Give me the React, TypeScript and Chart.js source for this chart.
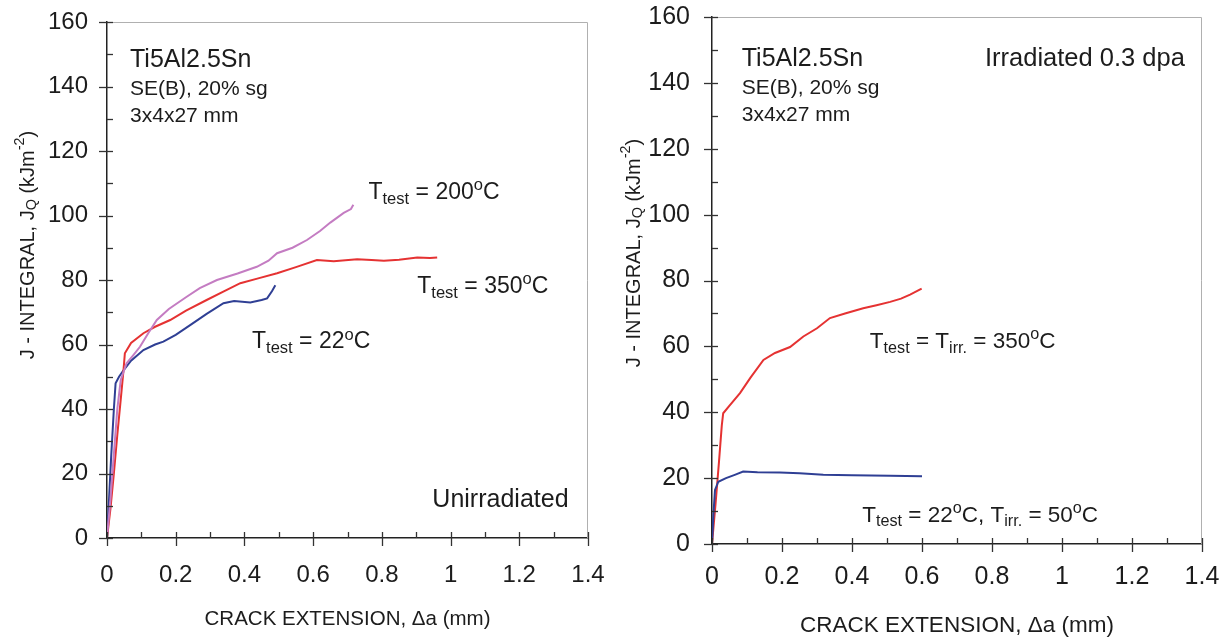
import React, { useEffect, useRef } from 'react';
import { Chart, registerables } from 'chart.js';

Chart.register(...registerables);

const FAMILY = '"Liberation Sans", Arial, Helvetica, sans-serif';

// ---------- axis ticks ----------
const xMajorTicks = [0, 0.2, 0.4, 0.6, 0.8, 1, 1.2, 1.4];
const xTickLabels = ['0', '0.2', '0.4', '0.6', '0.8', '1', '1.2', '1.4'];
const yMajorTicks = [0, 20, 40, 60, 80, 100, 120, 140, 160];
const yTickLabels = ['0', '20', '40', '60', '80', '100', '120', '140', '160'];

// ---------- Unirradiated (left) ----------
const t22X = [0, 0.005, 0.012, 0.02, 0.025, 0.035, 0.048, 0.07, 0.106, 0.14, 0.164, 0.2, 0.242, 0.29, 0.339, 0.37, 0.417, 0.45, 0.466, 0.48, 0.49];
const t22Y = [0, 10, 25, 40, 48, 50, 52, 55, 58.3, 60, 60.9, 63, 66, 69.5, 72.8, 73.5, 73, 73.8, 74.3, 76.5, 78.4];

const t200X = [0, 0.01, 0.02, 0.03, 0.04, 0.057, 0.075, 0.096, 0.12, 0.145, 0.18, 0.232, 0.27, 0.32, 0.38, 0.436, 0.47, 0.495, 0.54, 0.582, 0.62, 0.65, 0.689, 0.71, 0.717];
const t200Y = [0, 12, 26, 40, 49, 54.2, 56.5, 59.3, 63.5, 67.6, 71, 74.8, 77.5, 80, 82, 84.1, 86, 88.3, 90, 92.4, 95.2, 97.8, 100.8, 102, 103.3];

const t350X = [0, 0.01, 0.02, 0.03, 0.04, 0.048, 0.052, 0.07, 0.106, 0.14, 0.184, 0.23, 0.29, 0.34, 0.388, 0.44, 0.495, 0.55, 0.611, 0.66, 0.728, 0.77, 0.806, 0.85, 0.903, 0.94, 0.961];
const t350Y = [0, 9, 20, 32, 43, 52, 57.3, 60.5, 63.5, 65.5, 67.6, 70.5, 73.8, 76.5, 79, 80.5, 82.1, 84, 86.2, 85.8, 86.4, 86.2, 86.0, 86.3, 87.0, 86.8, 87.0];

// ---------- Irradiated 0.3 dpa (right) ----------
const irr350X = [0, 0.01, 0.02, 0.028, 0.032, 0.05, 0.08, 0.11, 0.147, 0.18, 0.223, 0.261, 0.3, 0.337, 0.38, 0.432, 0.47, 0.509, 0.54, 0.566, 0.599];
const irr350Y = [0, 12, 25, 36, 39.7, 42, 45.8, 50.5, 55.9, 58, 59.8, 63, 65.5, 68.6, 70, 71.6, 72.5, 73.5, 74.5, 75.7, 77.5];

const irr22X = [0, 0.004, 0.0086, 0.018, 0.04, 0.065, 0.089, 0.13, 0.194, 0.25, 0.318, 0.4, 0.509, 0.6];
const irr22Y = [0, 9, 16.4, 18.9, 20, 21, 22, 21.8, 21.7, 21.5, 21.0, 20.9, 20.7, 20.6];

const RED = '#e53232';
const BLUE = '#2f3f94';
const PURPLE = '#c47cc2';
const TEXT = '#1c1c1c';

type Seg = { t: string; k?: 'sub' | 'sup' };

function isMajor(v: number, majors: number[]) {
  return majors.some((m) => Math.abs(m - v) < 1e-6);
}

function drawRich(ctx: CanvasRenderingContext2D, segs: Seg[], x: number, y: number, size: number, align: 'left' | 'center') {
  const small = size * 0.72;
  const fontFor = (k?: string) => `${k ? small : size}px ${FAMILY}`;
  let w = 0;
  for (const s of segs) {
    ctx.font = fontFor(s.k);
    w += ctx.measureText(s.t).width;
  }
  let cx = align === 'center' ? x - w / 2 : x;
  ctx.textAlign = 'left';
  for (const s of segs) {
    ctx.font = fontFor(s.k);
    const dy = s.k === 'sub' ? size * 0.2 : s.k === 'sup' ? -size * 0.38 : 0;
    ctx.fillText(s.t, cx, y + dy);
    cx += ctx.measureText(s.t).width;
  }
}

const decorPlugin = {
  id: 'decor',
  afterDraw(chart: any, _args: any, opts: any) {
    const { ctx, chartArea: a, scales } = chart;
    const xs = scales.x;
    const ys = scales.y;
    ctx.save();
    // light frame on top / right
    ctx.strokeStyle = '#b0b0b0';
    ctx.lineWidth = 1;
    ctx.beginPath();
    ctx.moveTo(a.left, a.top + 0.5);
    ctx.lineTo(a.right - 0.5, a.top + 0.5);
    ctx.lineTo(a.right - 0.5, a.bottom);
    ctx.stroke();
    // tick marks
    ctx.strokeStyle = '#333';
    ctx.lineWidth = 1.3;
    for (const t of ys.ticks) {
      const py = Math.round(ys.getPixelForValue(t.value)) + 0.5;
      const major = isMajor(t.value, yMajorTicks);
      ctx.beginPath();
      ctx.moveTo(a.left - (major ? 8 : 0), py);
      ctx.lineTo(a.left + 6, py);
      ctx.stroke();
    }
    for (const t of xs.ticks) {
      const px = Math.round(xs.getPixelForValue(t.value)) + 0.5;
      const major = isMajor(t.value, xMajorTicks);
      ctx.beginPath();
      ctx.moveTo(px, a.bottom + (major ? 8 : 0));
      ctx.lineTo(px, a.bottom - 6);
      ctx.stroke();
    }
    // y title
    ctx.fillStyle = TEXT;
    ctx.textBaseline = 'middle';
    ctx.save();
    ctx.translate(opts.yTitle.x, opts.yTitle.y);
    ctx.rotate(-Math.PI / 2);
    drawRich(ctx, [
      { t: 'J - INTEGRAL, J' }, { t: 'Q', k: 'sub' }, { t: ' (kJm' }, { t: '-2', k: 'sup' }, { t: ')' },
    ], 0, 0, opts.yTitle.size, 'center');
    ctx.restore();
    // annotations
    ctx.textBaseline = 'alphabetic';
    for (const n of opts.notes) {
      const px = xs.getPixelForValue(n.x);
      const py = ys.getPixelForValue(n.y);
      drawRich(ctx, n.segs, px, py, n.size, 'left');
    }
    ctx.restore();
  },
};

function series(xv: number[], yv: number[], color: string) {
  return {
    data: xv.map((x, i) => ({ x, y: yv[i] })),
    borderColor: color,
    backgroundColor: color,
    borderWidth: 2,
    pointRadius: 0,
    showLine: true,
    tension: 0,
  };
}

function makeConfig(p: any): any {
  return {
    type: 'scatter',
    data: { datasets: p.datasets },
    plugins: [decorPlugin],
    options: {
      animation: false,
      responsive: false,
      devicePixelRatio: 1,
      events: [],
      layout: { padding: p.padding },
      plugins: {
        legend: { display: false },
        tooltip: { enabled: false },
        decor: { yTitle: p.yTitle, notes: p.notes },
      },
      scales: {
        x: {
          type: 'linear',
          min: 0,
          max: 1.4,
          grid: { display: false },
          border: { display: true, color: '#222', width: 1.5 },
          ticks: {
            stepSize: 0.1,
            autoSkip: false,
            maxRotation: 0,
            minRotation: 0,
            padding: p.xTickPad,
            color: TEXT,
            font: { family: FAMILY, size: p.tickSize },
            callback: (v: number) => {
              const i = xMajorTicks.findIndex((m) => Math.abs(m - v) < 1e-6);
              return i >= 0 ? xTickLabels[i] : '';
            },
          },
          title: {
            display: true,
            text: 'CRACK EXTENSION, Δa (mm)',
            color: TEXT,
            font: { family: FAMILY, size: p.xTitleSize },
            padding: { top: 0, bottom: p.xTitlePad },
          },
          afterFit: (s: any) => {
            s.height = p.xAxisHeight;
            s.paddingLeft = 0;
            s.paddingRight = 0;
          },
        },
        y: {
          type: 'linear',
          min: 0,
          max: 160,
          grid: { display: false },
          border: { display: true, color: '#222', width: 1.5 },
          ticks: {
            stepSize: 10,
            autoSkip: false,
            padding: p.yTickPad,
            color: TEXT,
            font: { family: FAMILY, size: p.tickSize },
            callback: (v: number) => {
              const i = yMajorTicks.findIndex((m) => Math.abs(m - v) < 1e-6);
              return i >= 0 ? yTickLabels[i] : '';
            },
          },
          afterFit: (s: any) => {
            s.width = p.yAxisWidth;
            s.paddingTop = 0;
            s.paddingBottom = 0;
          },
        },
      },
    },
  };
}

const T = (rest: Seg[]): Seg[] => [{ t: 'T' }, { t: 'test', k: 'sub' }, ...rest];

const leftConfig = () =>
  makeConfig({
    datasets: [
      series(t200X, t200Y, PURPLE),
      series(t350X, t350Y, RED),
      series(t22X, t22Y, BLUE),
    ],
    padding: { left: 0, right: 27, top: 22, bottom: 0 },
    yAxisWidth: 107,
    xAxisHeight: 101,
    tickSize: 24,
    xTickPad: 15,
    yTickPad: 11,
    xTitleSize: 20.5,
    xTitlePad: 7,
    yTitle: { x: 28, y: 245, size: 20 },
    notes: [
      { x: 0.067, y: 146.1, size: 25, segs: [{ t: 'Ti5Al2.5Sn' }] },
      { x: 0.067, y: 137.4, size: 21, segs: [{ t: 'SE(B), 20% sg' }] },
      { x: 0.067, y: 129.1, size: 21, segs: [{ t: '3x4x27 mm' }] },
      { x: 0.761, y: 105.1, size: 23, segs: T([{ t: ' = 200' }, { t: 'o', k: 'sup' }, { t: 'C' }]) },
      { x: 0.903, y: 76.0, size: 23, segs: T([{ t: ' = 350' }, { t: 'o', k: 'sup' }, { t: 'C' }]) },
      { x: 0.422, y: 58.8, size: 23, segs: T([{ t: ' = 22' }, { t: 'o', k: 'sup' }, { t: 'C' }]) },
      { x: 0.947, y: 9.7, size: 25, segs: [{ t: 'Unirradiated' }] },
    ],
  });

const rightConfig = () =>
  makeConfig({
    datasets: [series(irr22X, irr22Y, BLUE), series(irr350X, irr350Y, RED)],
    padding: { left: 0, right: 27, top: 17, bottom: 0 },
    yAxisWidth: 97,
    xAxisHeight: 95,
    tickSize: 25,
    xTickPad: 10,
    yTickPad: 14,
    xTitleSize: 22.5,
    xTitlePad: 0,
    yTitle: { x: 19, y: 253, size: 20 },
    notes: [
      { x: 0.085, y: 145.1, size: 25, segs: [{ t: 'Ti5Al2.5Sn' }] },
      { x: 0.085, y: 136.5, size: 21, segs: [{ t: 'SE(B), 20% sg' }] },
      { x: 0.085, y: 128.4, size: 21, segs: [{ t: '3x4x27 mm' }] },
      { x: 0.78, y: 145.1, size: 25.5, segs: [{ t: 'Irradiated 0.3 dpa' }] },
      {
        x: 0.451, y: 59.5, size: 22.5,
        segs: T([{ t: ' = T' }, { t: 'irr.', k: 'sub' }, { t: ' = 350' }, { t: 'o', k: 'sup' }, { t: 'C' }]),
      },
      {
        x: 0.429, y: 6.7, size: 22.5,
        segs: T([{ t: ' = 22' }, { t: 'o', k: 'sup' }, { t: 'C, T' }, { t: 'irr.', k: 'sub' }, { t: ' = 50' }, { t: 'o', k: 'sup' }, { t: 'C' }]),
      },
    ],
  });

function Panel({ make, left, width, height }: { make: () => any; left: number; width: number; height: number }) {
  const ref = useRef<HTMLCanvasElement>(null);
  useEffect(() => {
    const chart = new Chart(ref.current as HTMLCanvasElement, make());
    return () => chart.destroy();
  }, []);
  return (
    <canvas
      ref={ref}
      width={width}
      height={height}
      style={{ position: 'absolute', left, top: 0, width, height }}
    />
  );
}

export default function App() {
  return (
    <div style={{ position: 'fixed', left: 0, top: 0, width: 1229, height: 639, background: '#fff', overflow: 'hidden' }}>
      <Panel make={leftConfig} left={0} width={615} height={639} />
      <Panel make={rightConfig} left={615} width={614} height={639} />
    </div>
  );
}
